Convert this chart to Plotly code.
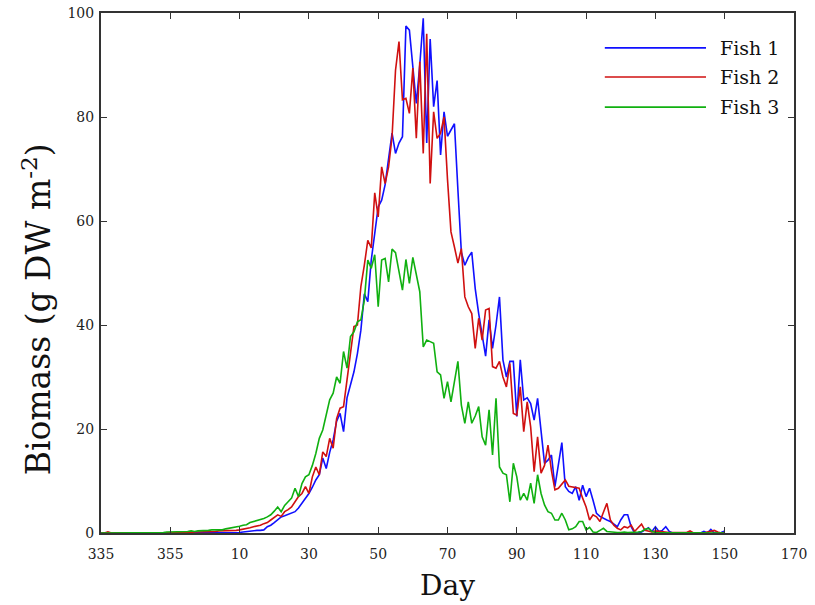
import plotly.graph_objects as go

# Day axis is continuous: day-of-year offsets, with 335..365 mapped to -30..0
days = list(range(-30, 151))

tick_vals = [-30, -10, 10, 30, 50, 70, 90, 110, 130, 150, 170]
tick_text = ["335", "355", "10", "30", "50", "70", "90", "110", "130", "150", "170"]
y_ticks = [0, 20, 40, 60, 80, 100]

series_names = ["Fish 1", "Fish 2", "Fish 3"]
series_colors = ["#1010ff", "#d01010", "#10b010"]

fish1 = [
    0, 0, 0, 0, 0, 0, 0, 0, 0, 0,
    0, 0, 0, 0, 0, 0, 0, 0, 0, 0,
    0, 0, 0, 0, 0, 0, 0, 0, 0, 0,
    0, 0, 0, 0, 0, 0, 0, 0, 0, 0.1,
    0.1, 0.2, 0.3, 0.3, 0.4, 0.5, 0.5, 0.6, 1.2, 1.5,
    2.0, 2.6, 3.1, 3.3, 3.6, 3.9, 4.1, 4.8, 5.7, 6.5,
    7.6, 8.8, 10.2, 11.2, 14.4, 12.4, 15.5, 17.9, 21.5, 23.0,
    19.5, 26.0, 28.5, 31.0, 34.5, 39.0, 46.0, 44.5, 52.5, 58.0,
    62.7, 64.0, 67.0, 72.0, 76.9, 73.0, 75.0, 76.2, 97.5, 96.7,
    90.0, 82.6, 90.0, 99.0, 75.0, 95.0, 82.0, 87.0, 72.7, 81.0,
    76.3, 77.5, 78.7, 66.0, 54.0, 51.5, 53.0, 54.0, 47.0, 42.2,
    38.0, 34.0, 41.0, 35.5, 40.0, 45.4, 33.3, 30.0, 33.0, 33.0,
    22.4, 33.3, 25.6, 26.0, 24.9, 21.7, 25.9, 19.8, 13.4, 14.0,
    15.0, 8.9, 13.0, 17.4, 8.9, 8.0, 7.6, 8.9, 6.3, 9.2,
    7.0, 8.6, 6.3, 3.8, 3.2, 2.8, 2.5, 2.2, 1.7, 1.2,
    2.5, 3.5, 3.5, 1.2, 0, 0, 0.2, 0.6, 1.0, 0.3,
    1.2, 0.3, 0.5, 1.2, 0.3, 0, 0, 0, 0, 0,
    0, 0, 0, 0, 0.3, 0, 0.7, 0, 0, 0.1,
    0.4,
]

fish2 = [
    0, 0, 0.2, 0, 0, 0, 0, 0, 0, 0,
    0, 0, 0, 0, 0, 0, 0, 0, 0, 0,
    0, 0, 0, 0, 0.1, 0.1, 0.1, 0.2, 0.2, 0.2,
    0.2, 0.3, 0.3, 0.3, 0.4, 0.4, 0.4, 0.5, 0.5, 0.5,
    0.6, 0.7, 0.9, 1.0, 1.2, 1.3, 1.5, 1.8, 2.0, 2.5,
    3.0, 3.5, 3.2, 4.1, 4.5, 5.0, 6.0, 7.0, 7.6, 8.9,
    7.6, 10.8, 12.7, 11.2, 15.6, 14.7, 18.2, 16.3, 22.0, 24.0,
    24.3, 29.1, 33.9, 39.7, 40.0, 47.4, 51.5, 56.3, 54.8, 65.4,
    60.8, 70.4, 67.2, 70.4, 76.2, 89.0, 94.5, 83.3, 83.6, 80.7,
    89.4, 75.9, 90.6, 73.0, 96.0, 67.2, 81.0, 75.9, 76.9, 80.0,
    68.0, 57.9, 55.0, 51.9, 54.7, 45.4, 43.5, 42.2, 35.5, 41.3,
    37.1, 42.9, 43.2, 32.0, 31.7, 33.0, 30.0, 28.1, 32.6, 23.0,
    22.7, 28.1, 19.5, 25.2, 20.4, 11.8, 18.5, 11.5, 13.0, 16.9,
    12.0, 8.3, 8.6, 9.5, 10.2, 9.0, 8.9, 8.7, 8.6, 6.7,
    5.0, 2.5, 3.5, 3.1, 2.2, 4.0, 5.7, 2.5, 1.5, 0.9,
    0.6, 1.2, 1.0, 1.5, 0.3, 1.0, 1.7, 0.5, 0.3, 0.2,
    0.4, 0.3, 0.3, 0.1, 0.1, 0.1, 0.1, 0.1, 0.1, 0.1,
    0.4, 0, 0, 0, 0, 0.2, 0.3, 0.5, 0.2, 0,
    0,
]

fish3 = [
    0, 0, 0, 0, 0, 0, 0, 0, 0, 0,
    0, 0, 0, 0, 0, 0.1, 0.1, 0.1, 0.1, 0.2,
    0.2, 0.2, 0.2, 0.3, 0.3, 0.3, 0.4, 0.3, 0.4, 0.4,
    0.5, 0.5, 0.6, 0.6, 0.7, 0.6, 0.8, 0.9, 1.0, 1.1,
    1.3, 1.5, 1.6, 2.0, 2.2, 2.3, 2.5, 2.8, 3.1, 3.5,
    4.2, 5.0, 4.1, 5.3, 6.0, 6.7, 8.6, 7.0, 9.5, 10.8,
    11.2, 13.0, 15.3, 18.2, 19.8, 22.5, 25.6, 26.9, 30.0, 28.8,
    34.9, 31.7, 37.8, 38.7, 40.6, 41.0, 44.8, 52.5, 50.9, 53.5,
    43.5, 52.5, 52.8, 48.3, 54.6, 53.9, 50.6, 46.7, 52.6, 48.0,
    53.0, 49.9, 46.4, 35.8, 37.1, 36.8, 36.5, 31.0, 30.4, 25.9,
    29.1, 25.2, 29.0, 33.0, 24.6, 21.1, 25.2, 21.1, 22.5, 24.3,
    18.5, 16.9, 23.7, 15.0, 25.9, 12.7, 11.5, 11.2, 6.0, 13.4,
    10.8, 6.3, 7.6, 6.3, 9.6, 5.7, 11.2, 7.6, 5.4, 4.1,
    3.8, 2.5, 2.5, 3.8, 2.5, 0.6, 0.8, 1.2, 2.2, 2.2,
    0.6, 1.1, 0.2, 0.1, 0.5, 0.9, 0.3, 0.2, 0.1, 0.1,
    0.1, 0.2, 0.1, 0.1, 0.2, 0.2, 0.3, 0.7, 0.9, 0.3,
    0.1, 0.1, 0.1, 0.1, 0.1, 0.1, 0.1, 0, 0, 0,
    0, 0, 0, 0, 0, 0, 0, 0, 0, 0,
    0,
]

series_values = [fish1, fish2, fish3]

SERIF = "DejaVu Serif"
TICKFONT = dict(family="DejaVu Serif Condensed", size=15.5, color="#222")

fig = go.Figure()
for name, color, vals in zip(series_names, series_colors, series_values):
    fig.add_trace(go.Scatter(
        x=days, y=vals, name=name, mode="lines",
        line=dict(color=color, width=1.6), showlegend=False,
    ))

# legend drawn as long line samples + labels, like the original
legend_rows = [0.933, 0.877, 0.819]
for name, color, yy in zip(series_names, series_colors, legend_rows):
    fig.add_shape(type="line", xref="paper", yref="paper",
                  x0=0.727, x1=0.873, y0=yy, y1=yy,
                  line=dict(color=color, width=1.6))
    fig.add_annotation(xref="paper", yref="paper", x=0.890, y=yy,
                       text=name, showarrow=False, xanchor="left", yanchor="middle",
                       font=dict(family=SERIF, size=19, color="#111"))

# axis titles
fig.add_annotation(xref="paper", yref="paper", x=0.5, y=-0.1,
                   text="Day", showarrow=False, xanchor="center", yanchor="middle",
                   font=dict(family=SERIF, size=28, color="#111"))
fig.add_annotation(xref="paper", yref="paper", x=-0.0924, y=0.43,
                   text="Biomass (g DW m<sup>-2</sup>)", showarrow=False, textangle=-90,
                   xanchor="center", yanchor="middle",
                   font=dict(family=SERIF, size=33, color="#111"))

axis_common = dict(
    showline=True, linecolor="#333", linewidth=1.6, mirror="ticks",
    ticks="inside", ticklen=6, tickwidth=1.4, tickcolor="#333",
    showgrid=False, zeroline=False, automargin=False,
    tickfont=TICKFONT,
)

fig.update_xaxes(range=[-30, 170], tickvals=tick_vals, ticktext=tick_text,
                 ticklabelstandoff=6, **axis_common)
fig.update_yaxes(range=[0, 100], tickvals=y_ticks, ticklabelstandoff=2, **axis_common)

fig.update_layout(
    width=815, height=605,
    margin=dict(l=101, r=21, t=13, b=72),
    paper_bgcolor="white", plot_bgcolor="white",
)

fig.write_html("out.html")
